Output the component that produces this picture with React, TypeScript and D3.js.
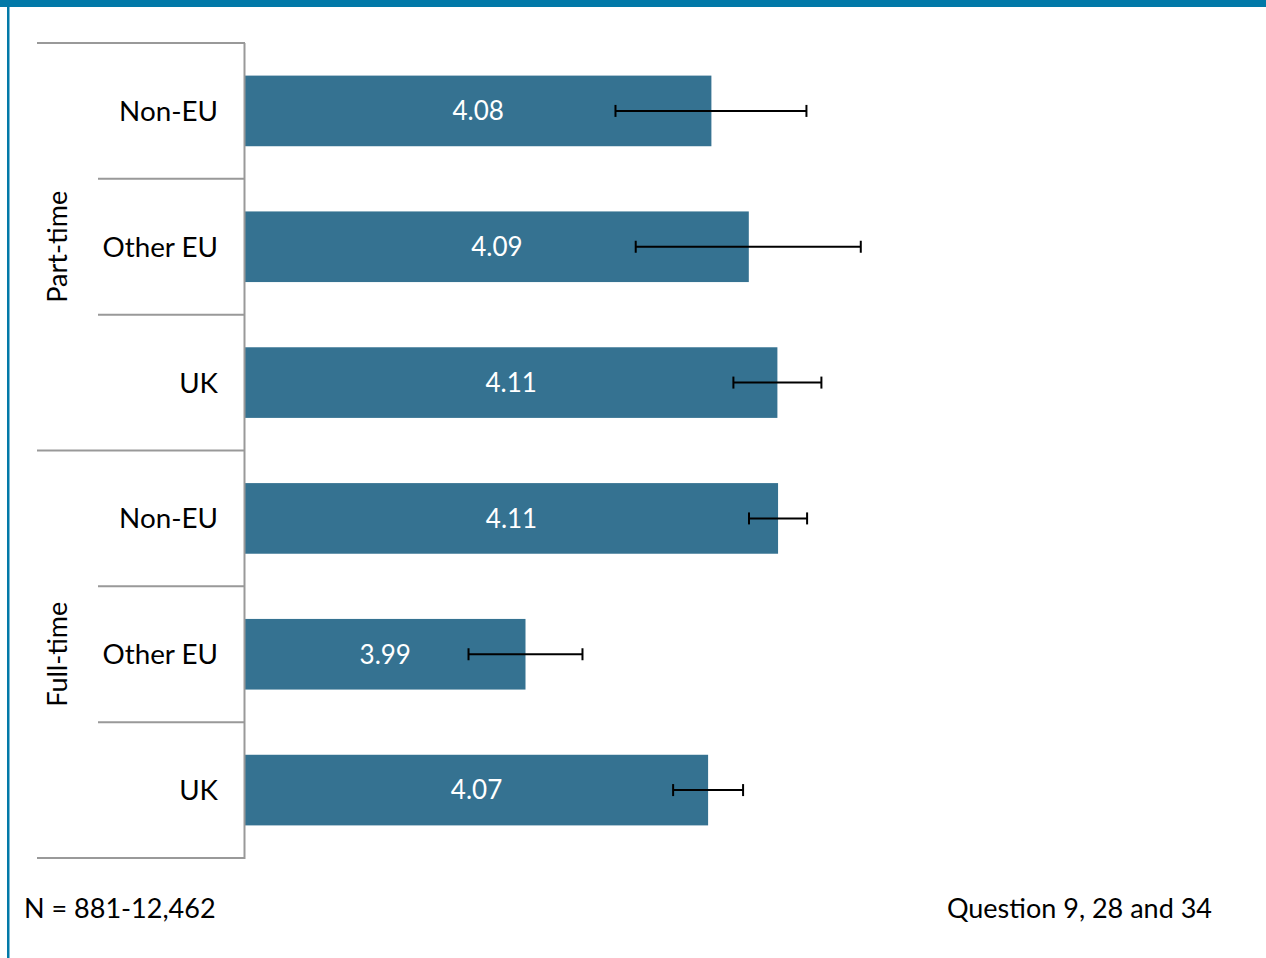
import React from "react";
import * as d3 from "d3";

const groups = ["Part-time", "Full-time"];
const categories = ["Non-EU", "Other EU", "UK"];
const rowGroup = ["Part-time", "Part-time", "Part-time", "Full-time", "Full-time", "Full-time"];
const rowCategory = ["Non-EU", "Other EU", "UK", "Non-EU", "Other EU", "UK"];
const means = [4.076, 4.093, 4.106, 4.1063, 3.9915, 4.0745];
const ciLow = [4.0324, 4.0416, 4.086, 4.0931, 3.9656, 4.0586];
const ciHigh = [4.1192, 4.1439, 4.126, 4.1195, 4.0174, 4.0904];
const footLeft = "N = 881-12,462";
const footRight = "Question 9, 28 and 34";

const W = 1266;
const H = 958;
const FONT = "Lato, 'Gill Sans', 'DejaVu Sans', sans-serif";

export default function App() {
  const x = d3.scaleLinear().domain([3.864, 4.2]).range([245, 245 + 0.336 * 2200]);
  const rows = d3.range(means.length);
  const y = d3
    .scaleBand<number>()
    .domain(rows)
    .range([43, 858])
    .paddingInner(0.48)
    .paddingOuter(0.24);
  const step = (858 - 43) / rows.length;
  const rowTop = (i: number) => 43 + i * step;
  const fmt = d3.format(".2f");
  const axisColor = "#999999";
  const barColor = "#357291";

  return (
    <svg
      width={W}
      height={H}
      style={{ position: "absolute", left: 0, top: 0, background: "#fff" }}
    >
      <rect x={0} y={0} width={W} height={7} fill="#0279a8" />
      <rect x={7} y={0} width={2.5} height={H} fill="#0279a8" />

      {/* bars */}
      {rows.map((i) => (
        <g key={i}>
          <rect
            x={x(x.domain()[0])}
            y={y(i)!}
            width={x(means[i]) - x(x.domain()[0])}
            height={y.bandwidth()}
            fill={barColor}
          />
          <text
            x={(x(x.domain()[0]) + x(means[i])) / 2}
            y={y(i)! + y.bandwidth() / 2}
            dy="0.36em"
            textAnchor="middle"
            fill="#fff"
            fontSize={26}
            fontFamily={FONT}
          >
            {fmt(means[i])}
          </text>
          <g stroke="#000" strokeWidth={2}>
            <line
              x1={x(ciLow[i])}
              x2={x(ciHigh[i])}
              y1={y(i)! + y.bandwidth() / 2}
              y2={y(i)! + y.bandwidth() / 2}
            />
            <line
              x1={x(ciLow[i])}
              x2={x(ciLow[i])}
              y1={y(i)! + y.bandwidth() / 2 - 6}
              y2={y(i)! + y.bandwidth() / 2 + 6}
            />
            <line
              x1={x(ciHigh[i])}
              x2={x(ciHigh[i])}
              y1={y(i)! + y.bandwidth() / 2 - 6}
              y2={y(i)! + y.bandwidth() / 2 + 6}
            />
          </g>
        </g>
      ))}

      {/* axis */}
      <line x1={244.5} x2={244.5} y1={43} y2={859} stroke={axisColor} strokeWidth={2} />
      {d3.range(rows.length + 1).map((k) => {
        const isGroupEdge = k % categories.length === 0;
        return (
          <line
            key={k}
            x1={isGroupEdge ? 37 : 98}
            x2={245}
            y1={rowTop(k)}
            y2={rowTop(k)}
            stroke={axisColor}
            strokeWidth={2}
          />
        );
      })}
      {rows.map((i) => (
        <text
          key={i}
          x={218}
          y={rowTop(i) + step / 2}
          dy="0.36em"
          textAnchor="end"
          fontSize={27.8}
          fontFamily={FONT}
          fill="#000"
        >
          {rowCategory[i]}
        </text>
      ))}
      {groups.map((g) => {
        const idx = rowGroup.map((r, i) => (r === g ? i : -1)).filter((i) => i >= 0);
        const cy = (rowTop(idx[0]) + rowTop(idx[idx.length - 1] + 1)) / 2;
        return (
          <text
            key={g}
            transform={`translate(57,${cy}) rotate(-90)`}
            dy="0.36em"
            textAnchor="middle"
            fontSize={27}
            fontFamily={FONT}
            fill="#000"
          >
            {g}
          </text>
        );
      })}

      <text x={24} y={908} dy="0.36em" fontSize={27} fontFamily={FONT} fill="#000">
        {footLeft}
      </text>
      <text x={1212} y={908} dy="0.36em" textAnchor="end" fontSize={27} fontFamily={FONT} fill="#000">
        {footRight}
      </text>
    </svg>
  );
}
